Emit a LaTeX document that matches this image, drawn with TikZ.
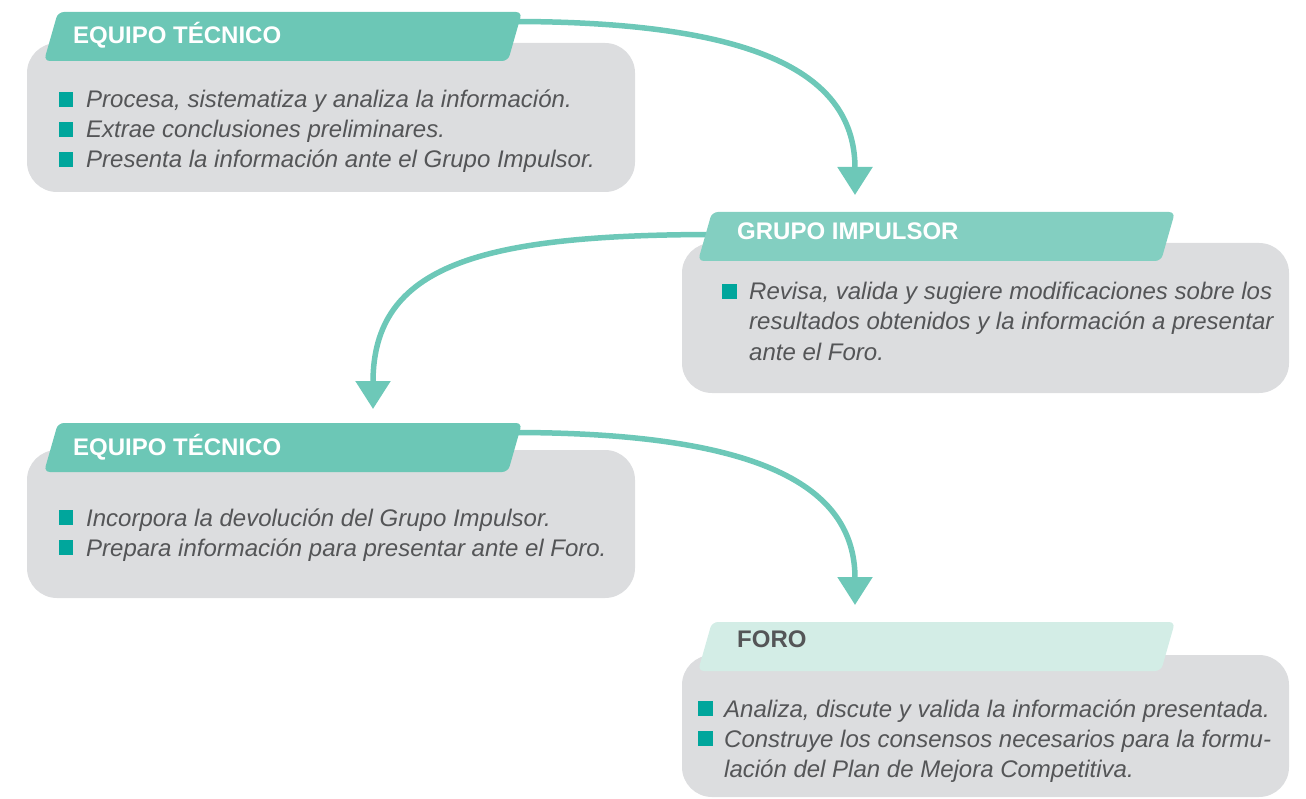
\documentclass[tikz,border=0pt]{standalone}
\usepackage{fontspec}
\setmainfont{Liberation Sans}
\usetikzlibrary{arrows.meta}
\definecolor{boxgrey}{HTML}{DCDDDF}
\definecolor{tabA}{HTML}{6CC7B6}
\definecolor{tabB}{HTML}{83CFC1}
\definecolor{tabC}{HTML}{D3EDE6}
\definecolor{arrowc}{HTML}{6DC8B8}
\definecolor{bulc}{HTML}{00A69C}
\definecolor{txtgrey}{HTML}{545557}
\begin{document}
\begin{tikzpicture}[x=1pt,y=-1pt,
  box/.style={fill=boxgrey, rounded corners=30pt},
  tabshape/.style={rounded corners=6pt},
  head/.style={anchor=base west, inner sep=0pt, font=\bfseries\fontsize{24}{28}\selectfont, text=white},
  item/.style={anchor=base west, inner sep=0pt, font=\itshape\fontsize{24}{30}\selectfont, text=txtgrey},
  bul/.style={fill=bulc, minimum size=14.5pt, inner sep=0pt, anchor=south west},
  flow/.style={draw=arrowc, line width=5.5pt, -{Triangle[width=34pt,length=28pt]}}
]
\useasboundingbox (0,0) rectangle (1306,799);

% connector end points
\coordinate (s1) at (512,21.5);
\coordinate (e1) at (855,195);
\coordinate (s2) at (716,234.5);
\coordinate (e2) at (373,409);
\coordinate (s3) at (512,432.5);
\coordinate (e3) at (855,605);

% connectors
\draw[flow] (s1) .. controls (760,21.5) and (855,75) .. (e1);
\draw[flow] (s2) .. controls (480,234.5) and (373,265) .. (e2);
\draw[flow] (s3) .. controls (760,432.5) and (855,486) .. (e3);

% grey boxes
\fill[box] (27,43) rectangle (635,192);
\fill[box] (682,243) rectangle (1289,393);
\fill[box] (27,450) rectangle (635,598);
\fill[box] (682,655) rectangle (1289,797);

% tabs
\fill[tabA, tabshape] (44,61) -- (58,12) -- (522,12) -- (508,61) -- cycle;
\fill[tabB, tabshape] (698,261) -- (712,212) -- (1175,212) -- (1161,261) -- cycle;
\fill[tabA, tabshape] (44,472) -- (58,423) -- (522,423) -- (508,472) -- cycle;
\fill[tabC, tabshape] (698,671) -- (712,622) -- (1175,622) -- (1161,671) -- cycle;

% headers
\node[head] (h1) at (73,44) {EQUIPO TÉCNICO};
\node[head] (h2) at (737,240) {GRUPO IMPULSOR};
\node[head] (h3) at (73,455) {EQUIPO TÉCNICO};
\node[head, text=txtgrey] (h4) at (737,647) {FORO};

% box 1
\node[bul] (b11) at (58.5,107) {};
\node[item] (t11) at (86,108) {Procesa, sistematiza y analiza la información.};
\node[bul] (b12) at (58.5,137) {};
\node[item] (t12) at (86,138) {Extrae conclusiones preliminares.};
\node[bul] (b13) at (58.5,167) {};
\node[item] (t13) at (86,168) {Presenta la información ante el Grupo Impulsor.};

% box 2
\node[bul] (b21) at (722,299) {};
\node[item] (t21) at (749,300) {Revisa, valida y sugiere modificaciones sobre los};
\node[item] (t22) at (749,330) {resultados obtenidos y la información a presentar};
\node[item] (t23) at (749,360) {ante el Foro.};

% box 3
\node[bul] (b31) at (58.5,525) {};
\node[item] (t31) at (86,526) {Incorpora la devolución del Grupo Impulsor.};
\node[bul] (b32) at (58.5,555) {};
\node[item] (t32) at (86,556) {Prepara información para presentar ante el Foro.};

% box 4
\node[bul] (b41) at (698,716) {};
\node[item] (t41) at (724,717) {Analiza, discute y valida la información presentada.};
\node[bul] (b42) at (698,746) {};
\node[item] (t42) at (724,747) {Construye los consensos necesarios para la formu-};
\node[item] (t43) at (724,777) {lación del Plan de Mejora Competitiva.};
\end{tikzpicture}
\end{document}
